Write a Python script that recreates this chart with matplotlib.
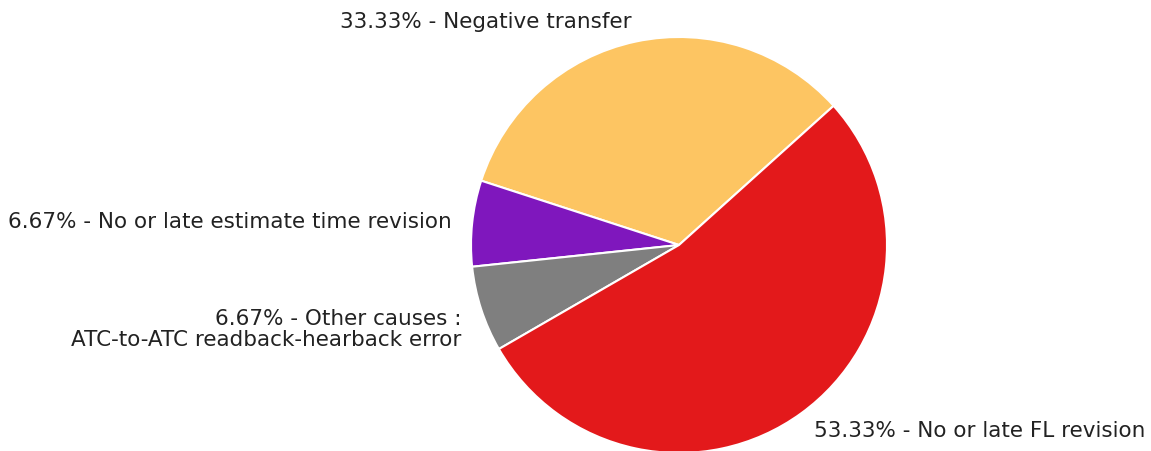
import matplotlib
matplotlib.use("Agg")
import matplotlib.pyplot as plt

labels = ["33.33% - Negative transfer",
          "6.67% - No or late estimate time revision",
          "6.67% - Other causes :\nATC-to-ATC readback-hearback error",
          "53.33% - No or late FL revision"]
shares = [33.33, 6.67, 6.67, 53.33]
colors = ["#FDC562", "#7F17BD", "#7F7F7F", "#E3191B"]

W, H = 1151, 452
fig = plt.figure(figsize=(W / 100, H / 100), dpi=100)

# pie centre and radius in pixels
cx, cy, r = 679, H - 246, 208
ax = fig.add_axes([(cx - r) / W, (cy - r) / H, 2 * r / W, 2 * r / H])

wedges, texts = ax.pie(shares, labels=labels, colors=colors, startangle=42,
                       labeldistance=1.1,
                       wedgeprops=dict(edgecolor="white", linewidth=1.5),
                       textprops=dict(fontsize=15.5, color="#222222",
                                      family="DejaVu Sans", linespacing=1.05))
# two-line label sits a little lower in the original
x, y = texts[2].get_position()
texts[2].set_position((x, y - 0.06))

ax.set_xlim(-1, 1)
ax.set_ylim(-1, 1)
ax.set_aspect("equal")
ax.axis("off")

fig.savefig("out.png", dpi=100)
